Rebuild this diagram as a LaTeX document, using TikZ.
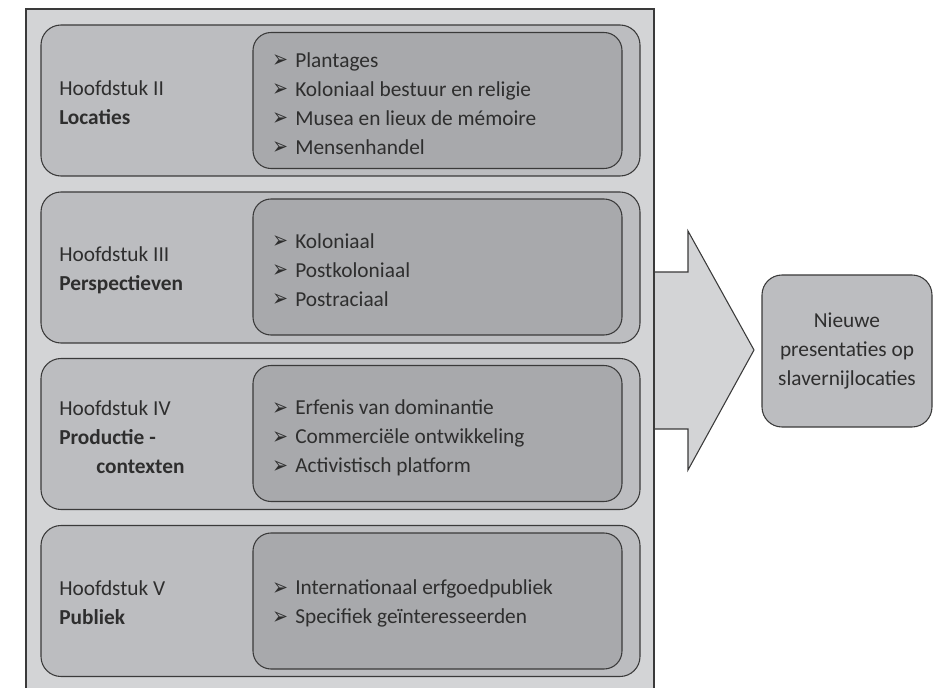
\documentclass[tikz,border=0pt]{standalone}
\usepackage{fontspec}
\setmainfont{Carlito}
\newfontfamily\dingfont{DejaVu Sans}
\usepackage{graphicx}
\usepackage{tikz}
\usetikzlibrary{positioning}

\definecolor{achtergrond}{HTML}{D3D4D6}
\definecolor{paneelgrijs}{HTML}{BCBDC0}
\definecolor{binnengrijs}{HTML}{A8A9AC}
\definecolor{lijngrijs}{HTML}{3A3A3A}
\definecolor{tekstgrijs}{HTML}{2E2E2E}

\newcommand{\pijl}{\makebox[17.25pt][l]{\raisebox{-0.5pt}{\scalebox{0.78}[1]{\dingfont\fontsize{18}{18}\selectfont ➢}}}}

\tikzset{
  paneel/.style={rectangle, rounded corners=15pt, draw=lijngrijs, line width=0.8pt,
    fill=paneelgrijs, minimum width=449.25pt, minimum height=113.25pt, inner sep=0pt},
  lijst/.style={rectangle, rounded corners=13.5pt, draw=lijngrijs, line width=0.8pt,
    fill=binnengrijs, minimum width=276.75pt, minimum height=102pt, inner sep=0pt},
  tekst/.style={inner sep=0pt, align=left, text=tekstgrijs,
    font=\fontsize{16}{21.75}\selectfont},
  doel/.style={rectangle, rounded corners=15pt, draw=lijngrijs, line width=0.8pt,
    fill=paneelgrijs, minimum width=127.5pt, minimum height=114pt, inner sep=0pt,
    align=center, text=tekstgrijs, font=\fontsize{16}{21.75}\selectfont}
}

\begin{document}
\begin{tikzpicture}[x=0.75pt, y=-0.75pt]
\useasboundingbox (0,0) rectangle (933,688);

% grote pijl achter het kader
\draw [draw=lijngrijs, line width=0.8pt, fill=achtergrond]
  (640,272) -- (688,272) -- (688,231) -- (754,350) -- (688,470) -- (688,429) -- (640,429);
% kader
\draw [draw=lijngrijs, line width=0.8pt, fill=achtergrond] (26,700) -- (26,9) -- (654,9) -- (654,700);

% panelen
\node [paneel] (locaties) at (340.5, 100.5) {};
\node [paneel] (perspectieven) at (340.5, 267.5) {};
\node [paneel] (productie) at (340.5, 434) {};
\node [paneel] (publiek) at (340.5, 601) {};

\node [lijst] (locatiesLijst) at (437.5, 100.5) {};
\node [lijst] (perspectievenLijst) at (437.5, 267) {};
\node [lijst] (productieLijst) at (437.5, 433.5) {};
\node [lijst] (publiekLijst) at (437.5, 601) {};

% hoofdstukken
\node [tekst, anchor=west] (locatiesTitel) at (59, 103) {Hoofdstuk II\\\textbf{Locaties}};
\node [tekst, anchor=west] (perspectievenTitel) at (59, 270) {Hoofdstuk III\\\textbf{Perspectieven}};
\node [tekst, anchor=west] (productieTitel) at (59, 437) {Hoofdstuk IV\\\textbf{Productie -}\\\hspace*{27.75pt}\textbf{contexten}};
\node [tekst, anchor=west] (publiekTitel) at (59, 603) {Hoofdstuk V\\\textbf{Publiek}};

% opsommingen
\node [tekst, anchor=west] (locatiesPunten) at (272, 103.5) {\pijl Plantages\\\pijl Koloniaal bestuur en religie\\\pijl Musea en lieux de mémoire\\\pijl Mensenhandel};
\node [tekst, anchor=west] (perspectievenPunten) at (272, 270) {\pijl Koloniaal\\\pijl Postkoloniaal\\\pijl Postraciaal};
\node [tekst, anchor=west] (productiePunten) at (272, 438) {\pijl Erfenis van dominantie\\\pijl Commerciële ontwikkeling\\\pijl Activistisch platform};
\node [tekst, anchor=west] (publiekPunten) at (272, 603.5) {\pijl Internationaal erfgoedpubliek\\\pijl Specifiek geïnteresseerden};

% uitkomst
\node [doel] (nieuwe) at (847, 351) {Nieuwe\\presentaties op\\slavernijlocaties};
\end{tikzpicture}
\end{document}
